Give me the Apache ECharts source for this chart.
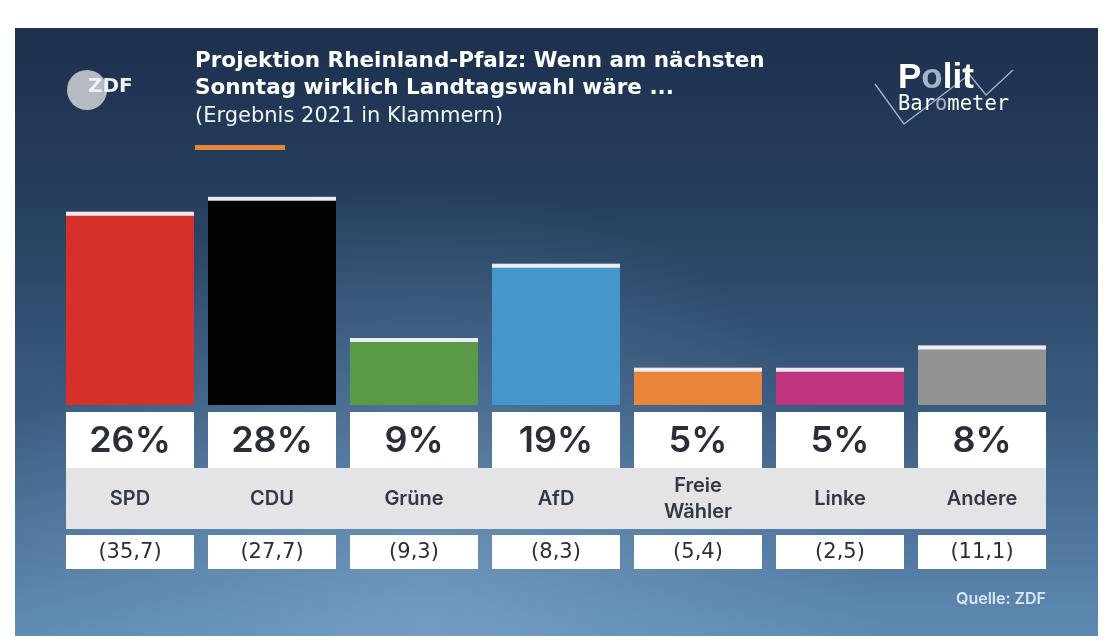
<!DOCTYPE html>
<html><head><meta charset="utf-8">
<script src="https://cdn.jsdelivr.net/npm/echarts@6/dist/echarts.min.js"></script>
<style>html,body{margin:0;padding:0;background:#fff}#c{width:1112px;height:641px}</style>
</head><body><div id="c"></div>
<script>
// ---- data ----
const categories = ['SPD', 'CDU', 'Grüne', 'AfD', 'Freie\nWähler', 'Linke', 'Andere'];
const projection = [26, 28, 9, 19, 5, 5, 8];
const result2021 = [35.7, 27.7, 9.3, 8.3, 5.4, 2.5, 11.1];
const partyColors = ['#d5302a', '#030303', '#5a9948', '#4597cb', '#e8853a', '#c0357f', '#939393'];

const FONT = 'Inter, "Noto Sans", sans-serif';
const TFONT = '"DejaVu Sans", sans-serif';
const TXT = '#2a2e38';
const fmt2021 = v => '(' + v.toFixed(1).replace('.', ',') + ')';

const chart = echarts.init(document.getElementById('c'), null, { renderer: 'canvas' });

const option = {
  backgroundColor: '#ffffff',
  animation: false,
  graphic: [
    { type: 'rect', z: -20, shape: { x: 15, y: 28, width: 1083, height: 608 },
      style: { fill: { type: 'linear', x: 0, y: 0, x2: 0, y2: 1, colorStops: [
        { offset: 0, color: '#1d304e' }, { offset: 0.3, color: '#27405f' },
        { offset: 0.62, color: '#3a5b80' }, { offset: 1, color: '#5f8bb2' }] } } },
    { type: 'rect', z: -19, shape: { x: 15, y: 28, width: 1083, height: 608 },
      style: { fill: { type: 'radial', x: 0.38, y: 1.0, r: 0.75, colorStops: [
        { offset: 0, color: 'rgba(140,180,215,0.45)' }, { offset: 1, color: 'rgba(140,180,215,0)' }] } } },
    // ZDF logo
    { type: 'circle', z: 5, shape: { cx: 87, cy: 90, r: 20 }, style: { fill: '#b5bac3' } },
    { type: 'text', z: 6, x: 88, y: 87, style: { text: 'ZDF', fontFamily: 'DejaVu Sans', fontSize: 20, fontWeight: 'bold',
      fill: '#eef0f3', verticalAlign: 'middle' } },
    // title
    { type: 'text', z: 6, x: 195, y: 48, style: { text: 'Projektion Rheinland-Pfalz: Wenn am nächsten\nSonntag wirklich Landtagswahl wäre ...',
      fontFamily: TFONT, fontSize: 21.5, fontWeight: 'bold', lineHeight: 27, fill: '#ffffff' } },
    { type: 'text', z: 6, x: 195, y: 104, style: { text: '(Ergebnis 2021 in Klammern)',
      fontFamily: TFONT, fontSize: 21, lineHeight: 25, fill: '#f2f4f7' } },
    { type: 'rect', z: 6, shape: { x: 195, y: 145, width: 90, height: 5 }, style: { fill: '#e8853a' } },
    // Politbarometer logo
    { type: 'polyline', z: 5, shape: { points: [[875, 84], [904, 124], [970, 74]] }, style: { stroke: '#aab4c3', lineWidth: 1.3, fill: null } },
    { type: 'polyline', z: 5, shape: { points: [[964, 68], [986, 95], [1013, 70]] }, style: { stroke: '#aab4c3', lineWidth: 1.3, fill: null } },
    { type: 'text', z: 6, x: 898, y: 78, style: { text: '{w|P}{g|o}{w|lit}', verticalAlign: 'middle',
      rich: { w: { fontFamily: 'Liberation Sans', fontSize: 35, fontWeight: 'bold', fill: '#ffffff' },
              g: { fontFamily: 'Liberation Sans', fontSize: 35, fontWeight: 'bold', fill: '#a9b2bf' } } } },
    { type: 'text', z: 6, x: 898, y: 105, style: { text: '{w|Bar}{g|o}{w|meter}', verticalAlign: 'middle',
      rich: { w: { fontFamily: 'DejaVu Sans Mono', fontSize: 20.5, fill: '#ffffff' },
              g: { fontFamily: 'DejaVu Sans Mono', fontSize: 20.5, fill: '#a9b2bf' } } } },
    // source
    { type: 'text', z: 6, x: 1046, y: 599, style: { text: 'Quelle: ZDF', fontFamily: FONT, fontSize: 16, fontWeight: 600,
      fill: '#d9e6f2', align: 'right', verticalAlign: 'middle' } }
  ],
  grid: { left: 59, right: 59, top: 182, bottom: 236 },
  xAxis: { type: 'category', data: categories, show: false },
  yAxis: { type: 'value', min: 0, max: 30, show: false },
  series: [
    { type: 'bar', barWidth: 128, z: 2, silent: true,
      data: projection.map((v, i) => ({ value: v, itemStyle: { color: partyColors[i] } })) },
    { type: 'scatter', z: 3, silent: true, data: projection, symbol: 'rect', symbolSize: [128, 4], symbolOffset: [0, 2],
      itemStyle: { color: '#ecebf0', opacity: 1 } },
    { type: 'custom', z: 4, clip: false, silent: true,
      data: categories.map((c, i) => [i, projection[i], result2021[i]]),
      renderItem: (params, api) => {
        const i = api.value(0);
        const base = api.coord([i, 0]);
        const cx = base[0], y0 = base[1];
        const half = api.size([1, 0])[0] / 2;
        const bw = 64;
        const left = i === 0 ? cx - bw : cx - half;
        const right = i === categories.length - 1 ? cx + bw : cx + half;
        return { type: 'group', children: [
          { type: 'rect', shape: { x: left, y: y0 + 63, width: right - left, height: 61 }, style: { fill: '#e4e4e6' } },
          { type: 'rect', shape: { x: cx - bw, y: y0 + 7, width: 2 * bw, height: 56 }, style: { fill: '#ffffff' } },
          { type: 'text', x: cx, y: y0 + 36, style: { text: api.value(1) + '%', fontFamily: FONT, fontSize: 36, fontWeight: 600,
            fill: TXT, align: 'center', verticalAlign: 'middle' } },
          { type: 'text', x: cx, y: y0 + 94, style: { text: categories[i], fontFamily: FONT, fontSize: 20, fontWeight: 600,
            lineHeight: 26, fill: '#323844', align: 'center', verticalAlign: 'middle' } },
          { type: 'rect', shape: { x: cx - bw, y: y0 + 130, width: 2 * bw, height: 34 }, style: { fill: '#ffffff' } },
          { type: 'text', x: cx, y: y0 + 148, style: { text: fmt2021(api.value(2)), fontFamily: TFONT, fontSize: 21,
            fill: TXT, align: 'center', verticalAlign: 'middle' } }
        ] };
      } }
  ]
};
chart.setOption(option);
</script>
</body></html>
